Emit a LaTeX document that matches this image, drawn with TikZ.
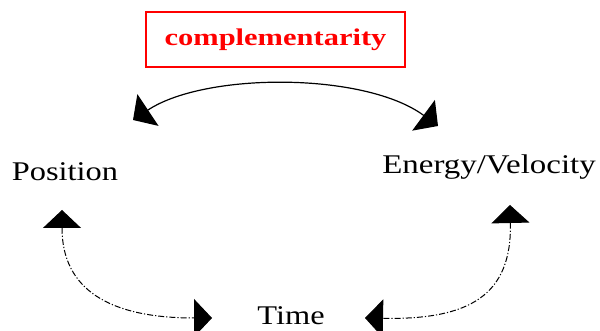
\documentclass[tikz,border=0pt]{standalone}
\usepackage{fontspec}
\setmainfont{Liberation Serif}
\usetikzlibrary{arrows.meta}
\newcommand{\widetext}[2]{\scalebox{#1}[1]{#2}}

\begin{document}
\begin{tikzpicture}[x=0.5pt,y=-0.5pt,
  quantity/.style={inner sep=0pt, anchor=base, font=\fontsize{13.5pt}{16pt}\selectfont},
  relbox/.style={draw=red, line width=0.6pt, text=red, minimum width=129.5pt, minimum height=27.5pt, inner sep=0pt,
    font=\bfseries\fontsize{12pt}{14pt}\selectfont},
  link/.style={line width=0.6pt, {Triangle[width=19pt,length=9pt]}-{Triangle[width=19pt,length=9pt]}},
  dashlink/.style={link, line width=0.5pt, dash pattern=on 3pt off 1pt on 0.6pt off 1pt}]
 \useasboundingbox (0,0) rectangle (600,331);
 % nodes
 \node[relbox] (comp) at (275.5,39.5) {\widetext{1.27}{complementarity}};
 \node[quantity] (pos) at (65,181) {\widetext{1.2}{Position}};
 \node[quantity] (ev) at (489,174) {\widetext{1.22}{Energy/Velocity}};
 \node[quantity] (time) at (291,325) {\widetext{1.2}{Time}};
 % arrow ends
 \coordinate (pos-r) at (133,120);
 \coordinate (pos-d) at (62,210);
 \coordinate (ev-l) at (438,126);
 \coordinate (ev-d) at (510,205);
 \coordinate (time-l) at (212,318);
 \coordinate (time-r) at (365,318);
 % connectors
 \draw[link] (pos-r) .. controls (205,72) and (365,72) .. (ev-l);
 \draw[dashlink] (pos-d) .. controls (62,290) and (110,318) .. (time-l);
 \draw[dashlink] (ev-d) .. controls (512,295) and (470,320) .. (time-r);
\end{tikzpicture}
\end{document}
